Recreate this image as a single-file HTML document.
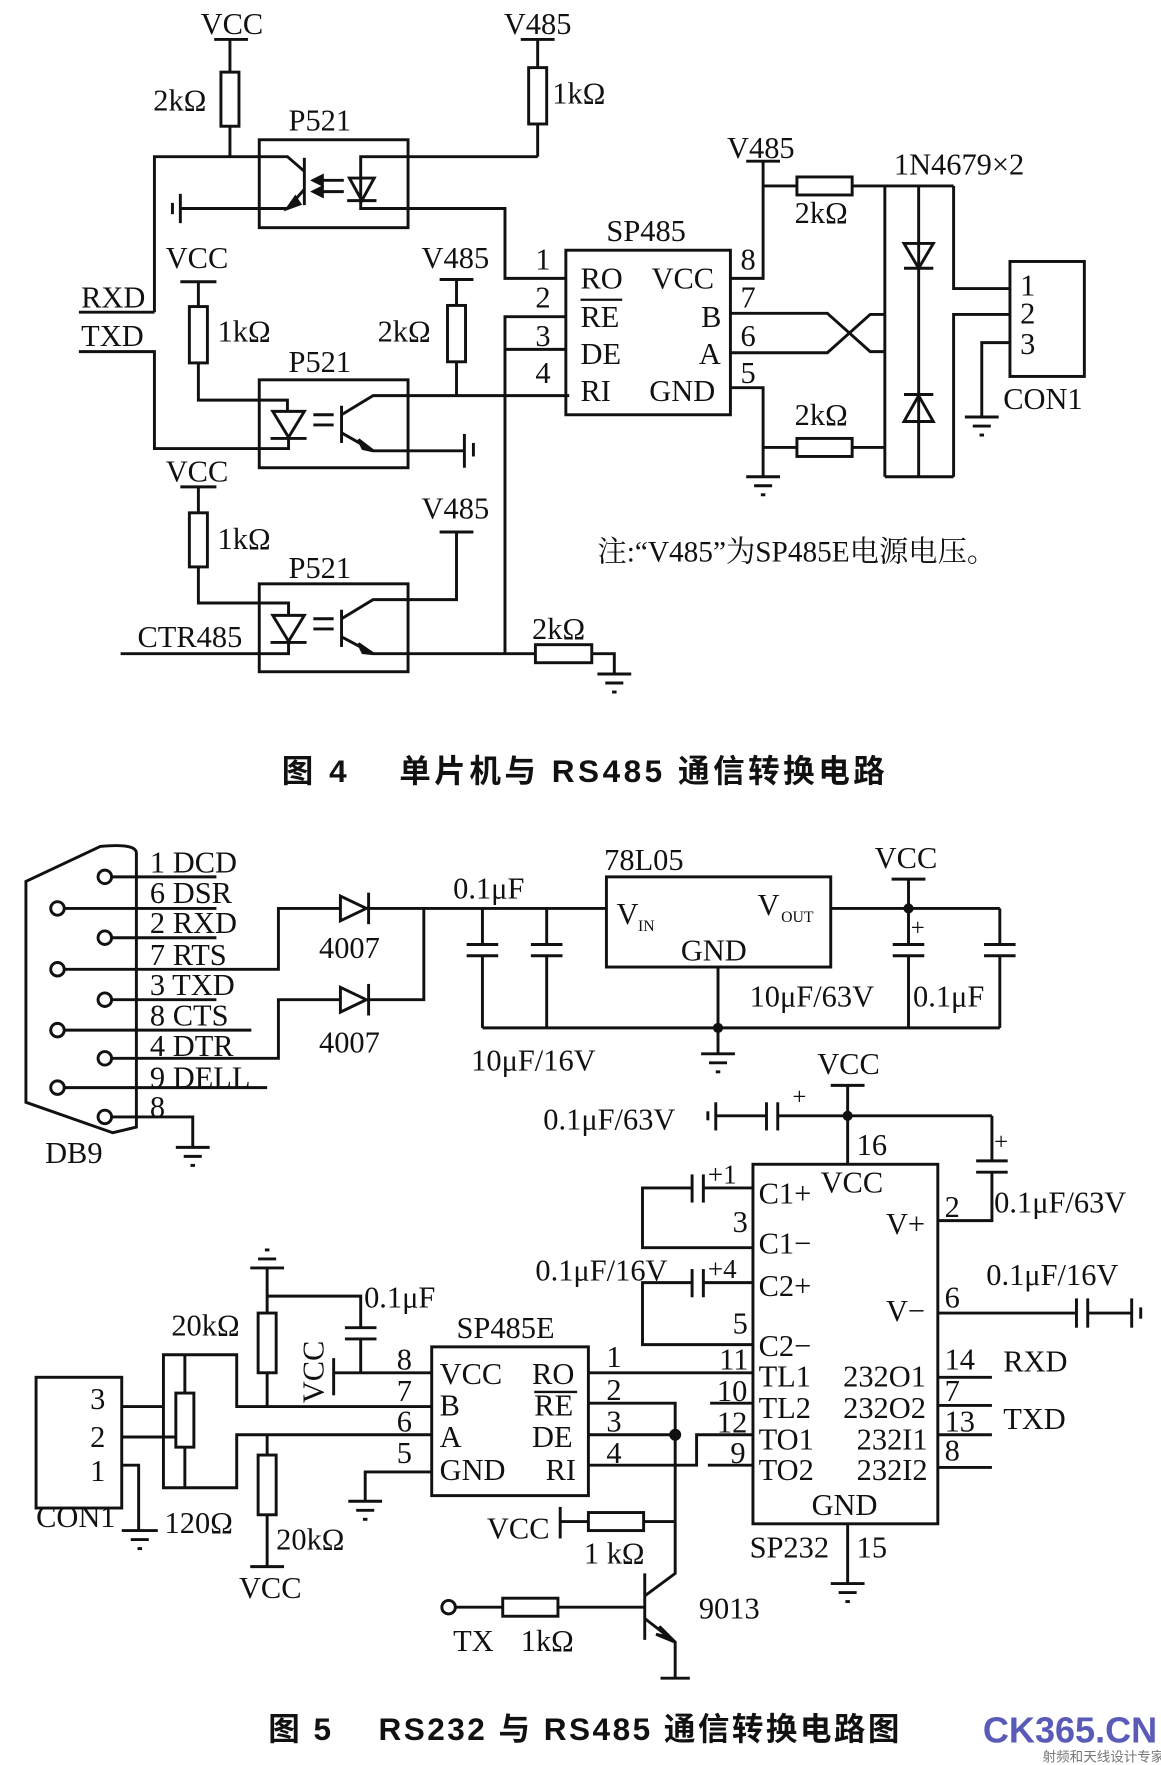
<!DOCTYPE html>
<html><head><meta charset="utf-8"><style>
html,body{margin:0;padding:0;background:#fff}
svg{display:block}
text{font-family:"Liberation Serif","Noto Serif CJK SC",serif;font-size:27px;fill:#111;white-space:pre}
.cap{font-family:"Liberation Sans","Noto Sans CJK SC",sans-serif;font-weight:bold;font-size:28px}
</style></head><body>
<svg width="1161" height="1765" viewBox="0 0 1030 1566" preserveAspectRatio="none" xmlns="http://www.w3.org/2000/svg" xml:space="preserve">
<g fill="none" stroke="#111" stroke-width="2.6">
<line x1="190" y1="35" x2="220" y2="35"/><line x1="204" y1="35" x2="204" y2="64"/>
<rect x="196" y="64" width="16" height="48"/><line x1="204" y1="112" x2="204" y2="139"/>
<line x1="462" y1="35" x2="492" y2="35"/><line x1="477" y1="35" x2="477" y2="60"/>
<rect x="469" y="60" width="16" height="50"/><line x1="477" y1="110" x2="477" y2="139"/>
<rect x="230" y="124" width="132" height="78"/>
<polyline points="137,277 137,139 255,139 270,152"/>
<line x1="270" y1="140" x2="270" y2="182"/>
<polyline points="270,168 255,185 160,185"/>
<line x1="160" y1="172" x2="160" y2="198"/><line x1="153" y1="180" x2="153" y2="190"/>
<polygon points="255,185 262,175 266,181" fill="#111"/>
<polyline points="477,139 320,139 320,180"/>
<polygon points="310,158 332,158 321,178"/><line x1="308" y1="178" x2="334" y2="178"/>
<polyline points="320,178 320,185 448,185 448,247 502,247"/>
<line x1="305" y1="160" x2="282" y2="160"/><line x1="305" y1="170" x2="282" y2="170"/>
<polygon points="278,160 286,156 286,164" fill="#111"/><polygon points="278,170 286,166 286,174" fill="#111"/>
<line x1="70" y1="277" x2="137" y2="277"/>
<polyline points="70,312 137,312 137,398 256,398 256,389"/>
<line x1="160" y1="250" x2="192" y2="250"/><line x1="176" y1="250" x2="176" y2="272"/>
<rect x="168" y="272" width="16" height="50"/>
<polyline points="176,322 176,355 255,355 255,365"/>
<rect x="230" y="337" width="132" height="78"/>
<polygon points="242,365 270,365 256,388"/><line x1="240" y1="389" x2="272" y2="389"/>
<line x1="303" y1="360" x2="303" y2="393"/>
<polyline points="303,368 331,351 505,351"/>
<polyline points="303,384 331,400 412,400"/><polygon points="331,400 318,390 322,398" fill="#111"/>
<line x1="412" y1="385" x2="412" y2="415"/><line x1="420" y1="393" x2="420" y2="405"/>
<line x1="278" y1="368" x2="296" y2="368"/><line x1="278" y1="377" x2="296" y2="377"/>
<line x1="390" y1="248" x2="420" y2="248"/><line x1="405" y1="248" x2="405" y2="271"/>
<rect x="397" y="271" width="16" height="50"/><line x1="405" y1="321" x2="405" y2="351"/>
<polyline points="502,281 448,281 448,580"/><line x1="448" y1="310" x2="502" y2="310"/>
<line x1="160" y1="432" x2="192" y2="432"/><line x1="176" y1="432" x2="176" y2="455"/>
<rect x="168" y="455" width="16" height="48"/>
<polyline points="176,503 176,535 256,535 256,546"/>
<rect x="230" y="518" width="132" height="78"/>
<polygon points="242,546 270,546 256,569"/><line x1="240" y1="570" x2="272" y2="570"/>
<polyline points="256,570 256,580 107,580"/>
<line x1="303" y1="541" x2="303" y2="574"/>
<polyline points="303,549 331,532 405,532 405,472"/><line x1="390" y1="472" x2="420" y2="472"/>
<polyline points="303,565 331,580 475,580"/><polygon points="331,580 318,571 322,579" fill="#111"/>
<line x1="278" y1="549" x2="296" y2="549"/><line x1="278" y1="558" x2="296" y2="558"/>
<rect x="475" y="572" width="50" height="16"/>
<polyline points="525,580 545,580 545,598"/>
<line x1="530" y1="598" x2="560" y2="598"/><line x1="537" y1="606" x2="553" y2="606"/><line x1="543" y1="614" x2="547" y2="614"/>
<rect x="502" y="222" width="146" height="146"/>
<polyline points="648,247 677,247 677,143"/><line x1="662" y1="143" x2="692" y2="143"/>
<polyline points="677,165 707,165"/><rect x="707" y="157" width="49" height="16"/><line x1="756" y1="165" x2="846" y2="165"/>
<polyline points="648,278 734,278 772,312 785,312"/>
<polyline points="648,313 734,313 772,279 785,279"/>
<polyline points="648,344 677,344 677,423"/>
<line x1="662" y1="423" x2="692" y2="423"/><line x1="669" y1="431" x2="685" y2="431"/><line x1="675" y1="439" x2="679" y2="439"/>
<line x1="677" y1="397" x2="707" y2="397"/><rect x="707" y="389" width="49" height="16"/><line x1="756" y1="397" x2="785" y2="397"/>
<line x1="785" y1="165" x2="785" y2="423"/><line x1="815" y1="165" x2="815" y2="423"/><line x1="785" y1="423" x2="846" y2="423"/>
<polygon points="802,216 828,216 815,238"/><line x1="802" y1="238" x2="828" y2="238"/>
<polygon points="802,374 828,374 815,351"/><line x1="802" y1="350" x2="828" y2="350"/>
<polyline points="846,165 846,256 896,256"/><polyline points="896,279 846,279 846,423"/>
<polyline points="896,304 871,304 871,370"/>
<line x1="856" y1="370" x2="886" y2="370"/><line x1="863" y1="378" x2="879" y2="378"/><line x1="869" y1="386" x2="873" y2="386"/>
<rect x="896" y="232" width="66" height="102"/>

<path d="M121,757 L121,1000 L100,1005 L23,978 L23,782 L89,751 Q121,748 121,757 Z"/>
<g fill="#fff">
<circle cx="93" cy="778" r="6"/><circle cx="51" cy="806" r="6"/><circle cx="93" cy="832" r="6"/>
<circle cx="51" cy="860" r="6"/><circle cx="93" cy="887" r="6"/><circle cx="51" cy="914" r="6"/>
<circle cx="93" cy="939" r="6"/><circle cx="51" cy="965" r="6"/><circle cx="93" cy="991" r="6"/>
</g>
<line x1="99" y1="778" x2="192" y2="778"/><line x1="57" y1="806" x2="192" y2="806"/><line x1="99" y1="832" x2="192" y2="832"/>
<polyline points="57,860 247,860 247,806 302,806"/><line x1="99" y1="887" x2="192" y2="887"/>
<line x1="57" y1="914" x2="223" y2="914"/><polyline points="99,939 247,939 247,887 302,887"/>
<line x1="57" y1="965" x2="237" y2="965"/>
<polyline points="99,991 171,991 171,1018"/>
<line x1="156" y1="1018" x2="186" y2="1018"/><line x1="163" y1="1026" x2="179" y2="1026"/><line x1="169" y1="1034" x2="173" y2="1034"/>
<polygon points="302,795 302,817 325,806"/><line x1="327" y1="792" x2="327" y2="820"/>
<polygon points="302,876 302,898 325,887"/><line x1="327" y1="873" x2="327" y2="901"/>
<polyline points="327,806 538,806"/><polyline points="327,887 376,887 376,806"/>
<polyline points="428,806 428,838"/><line x1="414" y1="838" x2="442" y2="838"/><line x1="414" y1="848" x2="442" y2="848"/><polyline points="428,848 428,912"/>
<polyline points="485,806 485,838"/><line x1="471" y1="838" x2="499" y2="838"/><line x1="471" y1="848" x2="499" y2="848"/><polyline points="485,848 485,912"/>
<line x1="428" y1="912" x2="887" y2="912"/>
<rect x="538" y="778" width="199" height="80"/>
<line x1="637" y1="858" x2="637" y2="935"/>
<line x1="622" y1="935" x2="652" y2="935"/><line x1="629" y1="943" x2="645" y2="943"/><line x1="635" y1="951" x2="639" y2="951"/>
<line x1="737" y1="806" x2="887" y2="806"/><line x1="791" y1="780" x2="821" y2="780"/><line x1="806" y1="780" x2="806" y2="806"/>
<polyline points="806,806 806,838"/><line x1="792" y1="838" x2="820" y2="838"/><line x1="792" y1="848" x2="820" y2="848"/><polyline points="806,848 806,912"/>
<polyline points="887,806 887,838"/><line x1="873" y1="838" x2="901" y2="838"/><line x1="873" y1="848" x2="901" y2="848"/><polyline points="887,848 887,912"/>
<rect x="668" y="1033" width="164" height="319"/>
<line x1="737" y1="963" x2="767" y2="963"/><line x1="752" y1="963" x2="752" y2="1033"/>
<line x1="635" y1="990" x2="680" y2="990"/><line x1="680" y1="978" x2="680" y2="1003"/><line x1="690" y1="978" x2="690" y2="1003"/>
<line x1="690" y1="990" x2="880" y2="990"/><line x1="635" y1="978" x2="635" y2="1003"/><line x1="628" y1="986" x2="628" y2="994"/>
<polyline points="880,990 880,1030"/><line x1="866" y1="1030" x2="894" y2="1030"/><line x1="866" y1="1040" x2="894" y2="1040"/><polyline points="880,1040 880,1083 832,1083"/>
<polyline points="668,1054 624,1054"/><line x1="624" y1="1042" x2="624" y2="1067"/><line x1="614" y1="1042" x2="614" y2="1067"/><polyline points="614,1054 570,1054 570,1107 668,1107"/>
<polyline points="668,1138 624,1138"/><line x1="624" y1="1126" x2="624" y2="1151"/><line x1="614" y1="1126" x2="614" y2="1151"/><polyline points="614,1138 570,1138 570,1193 668,1193"/>
<line x1="832" y1="1165" x2="955" y2="1165"/><line x1="955" y1="1152" x2="955" y2="1178"/><line x1="965" y1="1152" x2="965" y2="1178"/>
<line x1="965" y1="1165" x2="1004" y2="1165"/><line x1="1004" y1="1152" x2="1004" y2="1178"/><line x1="1012" y1="1160" x2="1012" y2="1170"/>
<line x1="832" y1="1222" x2="880" y2="1222"/><line x1="832" y1="1247" x2="880" y2="1247"/><line x1="832" y1="1273" x2="880" y2="1273"/><line x1="832" y1="1302" x2="880" y2="1302"/>
<line x1="752" y1="1352" x2="752" y2="1405"/>
<line x1="737" y1="1405" x2="767" y2="1405"/><line x1="744" y1="1413" x2="760" y2="1413"/><line x1="750" y1="1421" x2="754" y2="1421"/>
<rect x="383" y="1195" width="139" height="132"/>
<line x1="522" y1="1218" x2="668" y2="1218"/><line x1="630" y1="1245" x2="668" y2="1245"/>
<polyline points="522,1245 599,1245 599,1396 572,1416"/><line x1="522" y1="1273" x2="599" y2="1273"/>
<circle cx="599" cy="1273" r="4" fill="#111"/>
<polyline points="522,1300 618,1300 618,1273 668,1273"/><line x1="628" y1="1300" x2="668" y2="1300"/>
<line x1="497" y1="1337" x2="497" y2="1365"/><line x1="497" y1="1350" x2="522" y2="1350"/>
<rect x="522" y="1342" width="49" height="16"/><line x1="571" y1="1350" x2="599" y2="1350"/>
<line x1="572" y1="1396" x2="572" y2="1455"/>
<polyline points="572,1436 599,1457 599,1489"/><polygon points="599,1457 585,1443 591,1452 582,1450" fill="#111"/>
<line x1="586" y1="1489" x2="612" y2="1489"/>
<circle cx="398" cy="1426" r="6" fill="#fff"/><line x1="404" y1="1426" x2="446" y2="1426"/>
<rect x="446" y="1418" width="49" height="16"/><line x1="495" y1="1426" x2="572" y2="1426"/>
<line x1="383" y1="1218" x2="296" y2="1218"/><line x1="296" y1="1205" x2="296" y2="1238"/>
<polyline points="320,1218 320,1188"/><line x1="306" y1="1188" x2="334" y2="1188"/><line x1="306" y1="1178" x2="334" y2="1178"/>
<polyline points="320,1178 320,1150 237,1150"/>
<line x1="237" y1="1125" x2="237" y2="1165"/>
<line x1="222" y1="1125" x2="252" y2="1125"/><line x1="229" y1="1117" x2="245" y2="1117"/><line x1="235" y1="1109" x2="239" y2="1109"/>
<rect x="229" y="1165" width="16" height="53"/><line x1="237" y1="1218" x2="237" y2="1248"/>
<polyline points="383,1248 210,1248 210,1202 145,1202 145,1320 210,1320 210,1273 383,1273"/>
<line x1="164" y1="1202" x2="164" y2="1236"/><rect x="156" y="1236" width="16" height="48"/><line x1="164" y1="1284" x2="164" y2="1320"/>
<line x1="108" y1="1248" x2="145" y2="1248"/>
<line x1="108" y1="1275" x2="156" y2="1275"/>
<line x1="237" y1="1273" x2="237" y2="1291"/><rect x="229" y="1291" width="16" height="53"/><line x1="237" y1="1344" x2="237" y2="1390"/><line x1="222" y1="1390" x2="252" y2="1390"/>
<polyline points="383,1306 324,1306 324,1332"/>
<line x1="309" y1="1332" x2="339" y2="1332"/><line x1="316" y1="1340" x2="332" y2="1340"/><line x1="322" y1="1348" x2="326" y2="1348"/>
<rect x="32" y="1222" width="76" height="116"/>
<polyline points="108,1300 123,1300 123,1358"/>
<line x1="108" y1="1358" x2="140" y2="1358"/><line x1="116" y1="1366" x2="132" y2="1366"/><line x1="122" y1="1374" x2="126" y2="1374"/>
</g>
<circle cx="752" cy="990" r="4.5" fill="#111"/>
<circle cx="806" cy="806" r="4.5" fill="#111"/>
<circle cx="637" cy="912" r="4.5" fill="#111"/>

<text x="178" y="30">VCC</text><text x="447" y="30">V485</text>
<text x="136" y="98">2kΩ</text><text x="490" y="92">1kΩ</text>
<text x="256" y="116">P521</text><text x="256" y="330">P521</text><text x="256" y="513">P521</text>
<text x="72" y="273">RXD</text><text x="72" y="307">TXD</text>
<text x="147" y="238">VCC</text><text x="374" y="238">V485</text>
<text x="193" y="303">1kΩ</text><text x="335" y="303">2kΩ</text>
<text x="147" y="427">VCC</text><text x="374" y="460">V485</text>
<text x="193" y="487">1kΩ</text><text x="122" y="574">CTR485</text>
<text x="472" y="567">2kΩ</text>
<text x="538" y="214">SP485</text>
<text x="475" y="239">1</text><text x="475" y="273">2</text><text x="475" y="307">3</text><text x="475" y="340">4</text>
<text x="515" y="256">RO</text><text x="515" y="290">RE</text><text x="515" y="323">DE</text><text x="515" y="356">RI</text>
<line x1="515" y1="266" x2="552" y2="266" stroke="#111" stroke-width="2"/>
<text x="578" y="256">VCC</text><text x="622" y="290">B</text><text x="620" y="323">A</text><text x="576" y="356">GND</text>
<text x="657" y="239">8</text><text x="657" y="273">7</text><text x="657" y="307">6</text><text x="657" y="340">5</text>
<text x="645" y="140">V485</text><text x="705" y="198">2kΩ</text><text x="705" y="377">2kΩ</text>
<text x="793" y="155">1N4679×2</text>
<text x="905" y="262">1</text><text x="905" y="287">2</text><text x="905" y="314">3</text>
<text x="890" y="363">CON1</text>
<text x="530" y="498" style="font-size:26px">注:“V485”为SP485E电源电压。</text>
<text class="cap" x="250" y="694" textLength="535" lengthAdjust="spacing">图 4    单片机与 RS485 通信转换电路</text>

<text x="133" y="774">1 DCD</text><text x="133" y="801">6 DSR</text><text x="133" y="828">2 RXD</text>
<text x="133" y="856">7 RTS</text><text x="133" y="883">3 TXD</text><text x="133" y="910">8 CTS</text>
<text x="133" y="937">4 DTR</text><text x="133" y="965">9 DELL</text><text x="133" y="991">8</text>
<text x="40" y="1032">DB9</text>
<text x="283" y="850">4007</text><text x="283" y="934">4007</text>
<text x="402" y="797">0.1μF</text><text x="418" y="950">10μF/16V</text>
<text x="536" y="772">78L05</text>
<text x="547" y="820">V</text><text x="566" y="826" style="font-size:14px">IN</text>
<text x="672" y="812">V</text><text x="693" y="818" style="font-size:14px">OUT</text>
<text x="604" y="852">GND</text>
<text x="776" y="770">VCC</text><text x="808" y="830" style="font-size:22px">+</text>
<text x="665" y="893">10μF/63V</text><text x="810" y="893">0.1μF</text>
<text x="725" y="953">VCC</text>
<text x="482" y="1002">0.1μF/63V</text><text x="703" y="980" style="font-size:22px">+</text>
<text x="882" y="1020" style="font-size:22px">+</text>
<text x="760" y="1025">16</text>
<text x="882" y="1076">0.1μF/63V</text><text x="838" y="1080">2</text>
<text x="628" y="1050" style="font-size:24px">+1</text>
<text x="673" y="1068">C1+</text><text x="728" y="1058">VCC</text>
<text x="650" y="1093">3</text><text x="673" y="1112">C1−</text>
<text x="475" y="1136">0.1μF/16V</text><text x="628" y="1134" style="font-size:24px">+4</text>
<text x="673" y="1150">C2+</text><text x="650" y="1183">5</text><text x="673" y="1203">C2−</text>
<text x="786" y="1095">V+</text><text x="786" y="1172">V−</text>
<text x="875" y="1140">0.1μF/16V</text><text x="838" y="1160">6</text>
<text x="638" y="1215">11</text><text x="636" y="1243">10</text><text x="636" y="1271">12</text><text x="648" y="1298">9</text>
<text x="673" y="1230">TL1</text><text x="673" y="1258">TL2</text><text x="673" y="1286">TO1</text><text x="673" y="1313">TO2</text>
<text x="748" y="1230">232O1</text><text x="748" y="1258">232O2</text><text x="760" y="1286">232I1</text><text x="760" y="1313">232I2</text>
<text x="838" y="1215">14</text><text x="838" y="1243">7</text><text x="838" y="1270">13</text><text x="838" y="1296">8</text>
<text x="890" y="1217">RXD</text><text x="890" y="1268">TXD</text>
<text x="720" y="1344">GND</text><text x="665" y="1382">SP232</text><text x="760" y="1382">15</text>
<text x="405" y="1187">SP485E</text>
<text x="352" y="1215">8</text><text x="352" y="1243">7</text><text x="352" y="1270">6</text><text x="352" y="1298">5</text>
<text x="390" y="1228">VCC</text><text x="390" y="1256">B</text><text x="390" y="1284">A</text><text x="390" y="1313">GND</text>
<text x="472" y="1228">RO</text><text x="474" y="1256">RE</text><text x="472" y="1284">DE</text><text x="484" y="1313">RI</text>
<line x1="474" y1="1235" x2="512" y2="1235" stroke="#111" stroke-width="2"/>
<text x="538" y="1213">1</text><text x="538" y="1242">2</text><text x="538" y="1270">3</text><text x="538" y="1298">4</text>
<text x="323" y="1160">0.1μF</text><text x="152" y="1185">20kΩ</text>
<text transform="translate(287,1245) rotate(-90)">VCC</text>
<text x="80" y="1250">3</text><text x="80" y="1284">2</text><text x="80" y="1314">1</text>
<text x="32" y="1355">CON1</text><text x="146" y="1360">120Ω</text>
<text x="245" y="1375">20kΩ</text><text x="212" y="1418">VCC</text>
<text x="432" y="1365">VCC</text><text x="518" y="1387">1 kΩ</text>
<text x="620" y="1436">9013</text><text x="402" y="1465">TX</text><text x="462" y="1465">1kΩ</text>
<text class="cap" x="238" y="1544" textLength="560" lengthAdjust="spacing">图 5    RS232 与 RS485 通信转换电路图</text>
<text x="872" y="1546" style="font-family:'Liberation Sans',sans-serif;font-weight:bold;font-size:32px;fill:#5a5ab8">CK365.CN</text>
<text x="925" y="1563" style="font-family:'Noto Sans CJK SC',sans-serif;font-size:12px;fill:#777">射频和天线设计专家</text>
</svg>
</body></html>
